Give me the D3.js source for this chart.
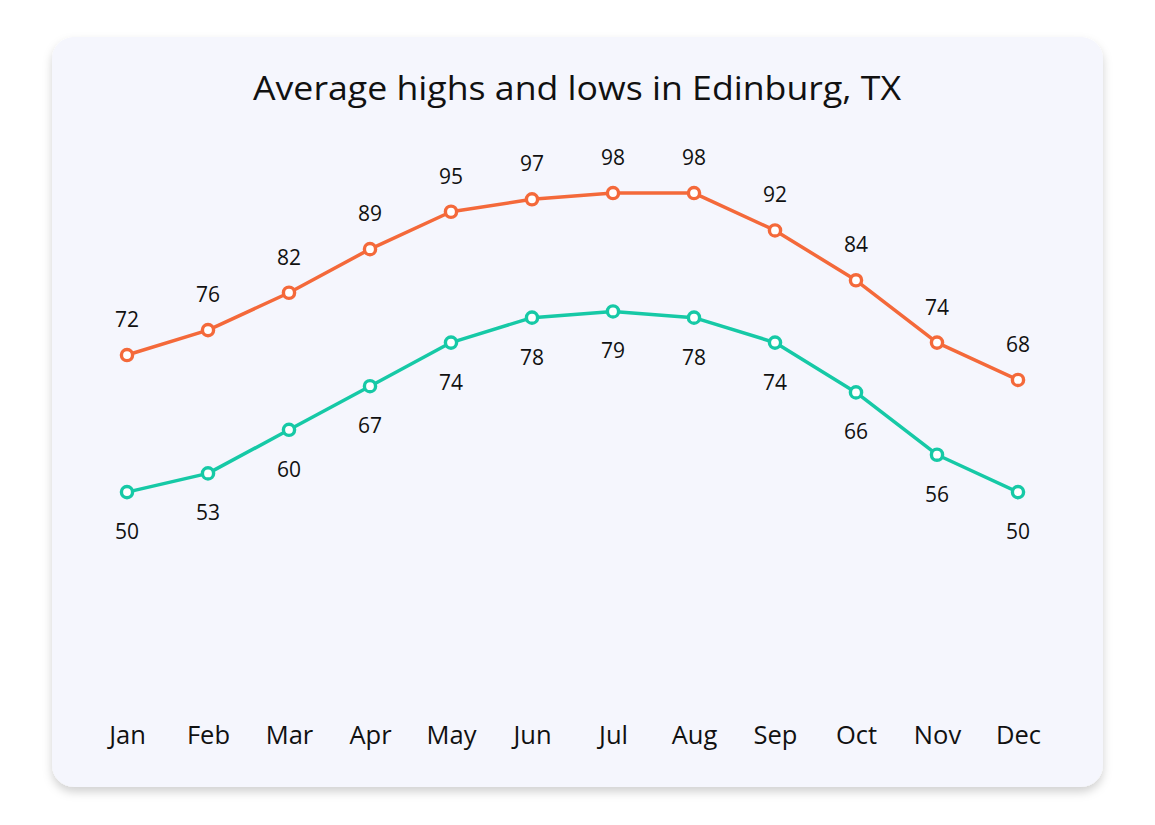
<!DOCTYPE html>
<html>
<head>
<meta charset="utf-8">
<script src="https://cdn.jsdelivr.net/npm/d3@7"></script>
<style>
html,body{margin:0;padding:0;background:#ffffff;}
svg{display:block;}
text{font-family:"Open Sans","Noto Sans",sans-serif;fill:#111;}
</style>
</head>
<body>
<svg id="chart" width="1155" height="825"></svg>
<script>
const months = ["Jan","Feb","Mar","Apr","May","Jun","Jul","Aug","Sep","Oct","Nov","Dec"];
const highs = [72,76,82,89,95,97,98,98,92,84,74,68];
const lows = [50,53,60,67,74,78,79,78,74,66,56,50];
const title = "Average highs and lows in Edinburg, TX";

const svg = d3.select("#chart");
const defs = svg.append("defs");
const f = defs.append("filter").attr("id","shadow").attr("x","-10%").attr("y","-10%").attr("width","120%").attr("height","125%");
f.append("feDropShadow").attr("dx",0).attr("dy",5).attr("stdDeviation",5).attr("flood-color","#000").attr("flood-opacity",0.18);

svg.append("rect").attr("x",52).attr("y",37).attr("width",1051).attr("height",750)
  .attr("rx",22).attr("fill","#f5f6fd").attr("filter","url(#shadow)");

svg.append("text").attr("x",577).attr("y",100).attr("text-anchor","middle")
  .attr("font-size",33).attr("textLength",648).attr("lengthAdjust","spacingAndGlyphs").text(title);

const x = d3.scalePoint().domain(months).range([127,1018]);
const y = d3.scaleLinear().domain([40,100]).range([554.4,180.6]);

const line = d3.line().x((d,i)=>x(months[i])).y(d=>y(d));

function series(data, color, above){
  svg.append("path").datum(data).attr("d",line).attr("fill","none")
    .attr("stroke",color).attr("stroke-width",3.5).attr("stroke-linejoin","round");
  svg.append("g").selectAll("circle").data(data).join("circle")
    .attr("cx",(d,i)=>x(months[i])).attr("cy",d=>y(d)).attr("r",5.6)
    .attr("fill","#fff").attr("stroke",color).attr("stroke-width",3.4);
  svg.append("g").selectAll("text").data(data).join("text")
    .attr("x",(d,i)=>x(months[i])).attr("y",d=>y(d)+(above?-28:47))
    .attr("text-anchor","middle").attr("font-size",21).text(d=>d);
}
series(highs,"#f4693a",true);
series(lows,"#16c9a6",false);

const axis = d3.axisBottom(x).tickSize(0).tickPadding(0);
const g = svg.append("g").attr("transform","translate(0,744)").call(axis);
g.select(".domain").remove();
g.selectAll("text").attr("font-size",25.5).attr("dy",0).attr("fill","#111")
  .style("font-family","'Open Sans', 'Noto Sans', sans-serif");
</script>
</body>
</html>
